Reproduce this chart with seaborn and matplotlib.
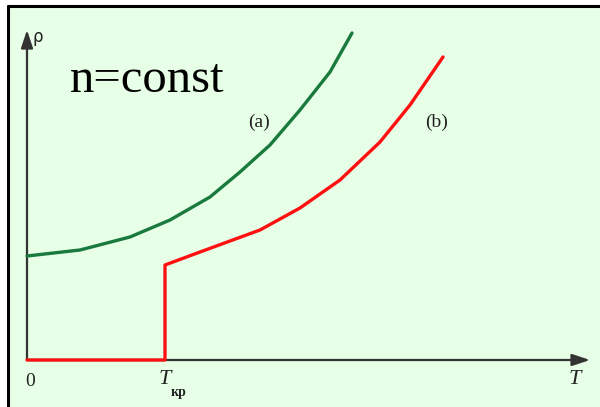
import numpy as np
import pandas as pd
import matplotlib
matplotlib.use("Agg")
import matplotlib.pyplot as plt
import seaborn as sns
from matplotlib.lines import Line2D

# Resistivity versus temperature at constant carrier density
# (a) normal metal, (b) superconductor with a transition at T_kr
T_a = [0.0, 5.3, 10.3, 14.3, 18.3, 21.3, 24.3, 27.3, 30.3, 32.5]
rho_a = [10.4, 11.0, 12.3, 14.0, 16.3, 18.8, 21.5, 25.0, 28.8, 32.7]

T_kr = 13.8
T_b = [0.0, T_kr, T_kr, 17.3, 23.3, 27.3, 31.3, 35.3, 38.3, 41.6]
rho_b = [0.0, 0.0, 9.5, 10.8, 13.0, 15.2, 18.0, 21.8, 25.5, 30.3]

bg = "#e6ffe6"
sns.set_theme(style="white")
plt.rcParams["font.family"] = ["DejaVu Sans"]

fig = plt.figure(figsize=(6.0, 4.07), dpi=100)
fig.patch.set_facecolor("white")
ax = fig.add_axes([0, 0, 1, 1])
ax.set_facecolor("white")
ax.set_xlim(-2.7, 57.3)
ax.set_ylim(-4.7, 36.0)
for s in ax.spines.values():
    s.set_visible(False)
ax.set_xticks([])
ax.set_yticks([])

# panel background and frame
ax.axvspan(-1.9, 57.3, ymin=0, ymax=(36.0 - 0.6 + 4.7) / 40.7, color=bg, zorder=0, lw=0)
fig.add_artist(Line2D([8 / 600, 8 / 600], [0, 1 - 6 / 407], color="black", lw=2.2))
fig.add_artist(Line2D([8 / 600, 1], [1 - 6 / 407, 1 - 6 / 407], color="black", lw=2.2))

# coordinate axes with arrows
arrow = dict(arrowstyle="-|>,head_length=0.9,head_width=0.3", color="#333333", lw=1.6,
             shrinkA=0, shrinkB=0)
ax.annotate("", xy=(56.3, 0), xytext=(0, 0), arrowprops=arrow, zorder=2)
ax.annotate("", xy=(0, 33.0), xytext=(0, 0), arrowprops=arrow, zorder=2)

df_a = pd.DataFrame({"T": T_a, "rho": rho_a})
df_b = pd.DataFrame({"T": T_b, "rho": rho_b})
sns.lineplot(data=df_a, x="T", y="rho", sort=False, estimator=None, color="#1a7a3e",
             lw=2.4, ax=ax, zorder=3)
sns.lineplot(data=df_b, x="T", y="rho", sort=False, estimator=None, color="#ff1010",
             lw=2.4, ax=ax, zorder=3)
ax.set_xlabel("")
ax.set_ylabel("")

serif = ["Liberation Serif", "DejaVu Serif"]
ax.text(4.3, 26.8, "n=const", fontsize=35, family=serif, color="black")
ax.text(22.1, 23.3, "(a)", fontsize=14, family=serif, color="#222222")
ax.text(39.8, 23.3, "(b)", fontsize=14, family=serif, color="#222222")
ax.text(0.5, 31.8, "ρ", fontsize=12, color="#222222")
ax.text(0.3, -1.3, "0", fontsize=14, family=serif, color="#222222", ha="center", va="top")
ax.text(54.8, -1.0, "T", fontsize=16, family=serif, style="italic", color="#222222",
        ha="center", va="top")
ax.text(T_kr, -1.0, "T", fontsize=16, family=serif, style="italic", color="#222222",
        ha="center", va="top")
ax.text(T_kr + 0.6, -2.6, "кр", fontsize=10, family=serif, color="#222222", ha="left",
        va="top", fontweight="bold")

fig.savefig("out.png", dpi=100, facecolor=fig.get_facecolor())
